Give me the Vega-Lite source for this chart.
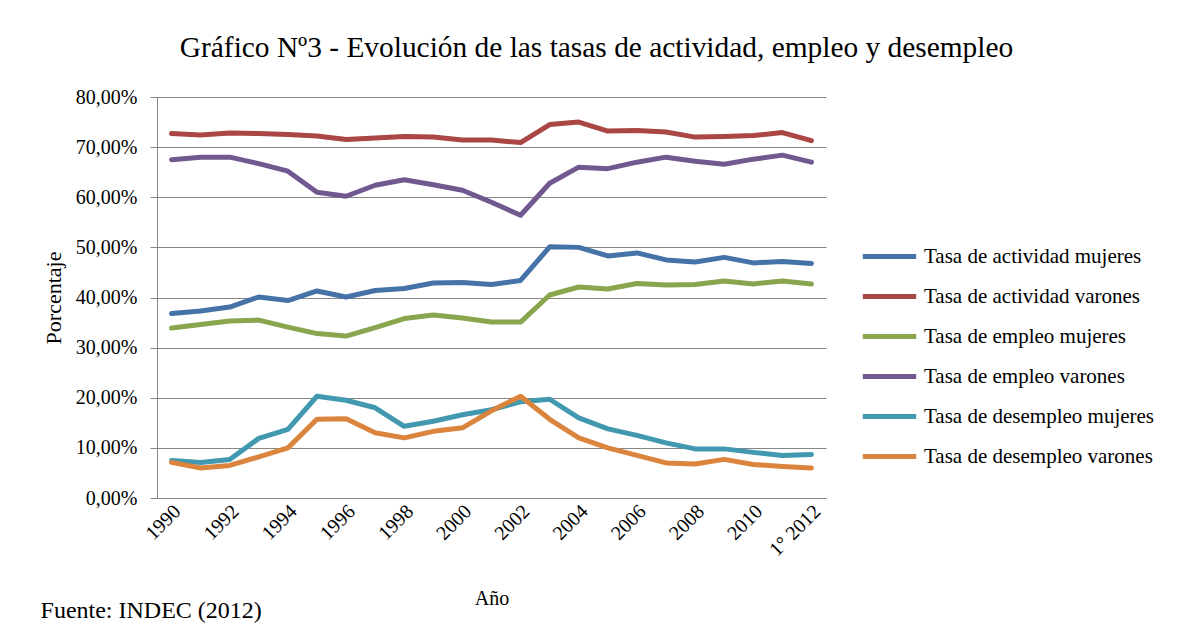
{
  "$schema": "https://vega.github.io/schema/vega-lite/v6.json",
  "autosize": {"type": "none"},
  "width": 669,
  "height": 401,
  "padding": {"left": 157, "top": 97, "right": 351, "bottom": 136},
  "background": "white",
  "title": {
    "text": "Gráfico Nº3 - Evolución de las tasas de actividad, empleo y desempleo",
    "font": "Liberation Serif",
    "fontSize": 29.4,
    "fontWeight": "normal",
    "color": "black",
    "anchor": "middle",
    "frame": "group",
    "dx": 105,
    "offset": 24
  },
  "config": {
    "view": {"stroke": null},
    "font": "Liberation Serif"
  },
  "data": {
    "values": [
      {"anio": "1990", "serie": "Tasa de actividad mujeres", "valor": 36.8},
      {"anio": "1991", "serie": "Tasa de actividad mujeres", "valor": 37.3},
      {"anio": "1992", "serie": "Tasa de actividad mujeres", "valor": 38.1},
      {"anio": "1993", "serie": "Tasa de actividad mujeres", "valor": 40.1},
      {"anio": "1994", "serie": "Tasa de actividad mujeres", "valor": 39.4},
      {"anio": "1995", "serie": "Tasa de actividad mujeres", "valor": 41.3},
      {"anio": "1996", "serie": "Tasa de actividad mujeres", "valor": 40.1},
      {"anio": "1997", "serie": "Tasa de actividad mujeres", "valor": 41.4},
      {"anio": "1998", "serie": "Tasa de actividad mujeres", "valor": 41.8},
      {"anio": "1999", "serie": "Tasa de actividad mujeres", "valor": 42.9},
      {"anio": "2000", "serie": "Tasa de actividad mujeres", "valor": 43.0},
      {"anio": "2001", "serie": "Tasa de actividad mujeres", "valor": 42.6},
      {"anio": "2002", "serie": "Tasa de actividad mujeres", "valor": 43.4},
      {"anio": "2003", "serie": "Tasa de actividad mujeres", "valor": 50.1},
      {"anio": "2004", "serie": "Tasa de actividad mujeres", "valor": 50.0},
      {"anio": "2005", "serie": "Tasa de actividad mujeres", "valor": 48.3},
      {"anio": "2006", "serie": "Tasa de actividad mujeres", "valor": 48.9},
      {"anio": "2007", "serie": "Tasa de actividad mujeres", "valor": 47.5},
      {"anio": "2008", "serie": "Tasa de actividad mujeres", "valor": 47.1},
      {"anio": "2009", "serie": "Tasa de actividad mujeres", "valor": 48.0},
      {"anio": "2010", "serie": "Tasa de actividad mujeres", "valor": 46.9},
      {"anio": "2011", "serie": "Tasa de actividad mujeres", "valor": 47.2},
      {"anio": "1° 2012", "serie": "Tasa de actividad mujeres", "valor": 46.8},
      {"anio": "1990", "serie": "Tasa de actividad varones", "valor": 72.7},
      {"anio": "1991", "serie": "Tasa de actividad varones", "valor": 72.4},
      {"anio": "1992", "serie": "Tasa de actividad varones", "valor": 72.8},
      {"anio": "1993", "serie": "Tasa de actividad varones", "valor": 72.7},
      {"anio": "1994", "serie": "Tasa de actividad varones", "valor": 72.5},
      {"anio": "1995", "serie": "Tasa de actividad varones", "valor": 72.2},
      {"anio": "1996", "serie": "Tasa de actividad varones", "valor": 71.5},
      {"anio": "1997", "serie": "Tasa de actividad varones", "valor": 71.8},
      {"anio": "1998", "serie": "Tasa de actividad varones", "valor": 72.1},
      {"anio": "1999", "serie": "Tasa de actividad varones", "valor": 72.0},
      {"anio": "2000", "serie": "Tasa de actividad varones", "valor": 71.4},
      {"anio": "2001", "serie": "Tasa de actividad varones", "valor": 71.4},
      {"anio": "2002", "serie": "Tasa de actividad varones", "valor": 70.9},
      {"anio": "2003", "serie": "Tasa de actividad varones", "valor": 74.5},
      {"anio": "2004", "serie": "Tasa de actividad varones", "valor": 75.0},
      {"anio": "2005", "serie": "Tasa de actividad varones", "valor": 73.2},
      {"anio": "2006", "serie": "Tasa de actividad varones", "valor": 73.3},
      {"anio": "2007", "serie": "Tasa de actividad varones", "valor": 73.0},
      {"anio": "2008", "serie": "Tasa de actividad varones", "valor": 72.0},
      {"anio": "2009", "serie": "Tasa de actividad varones", "valor": 72.1},
      {"anio": "2010", "serie": "Tasa de actividad varones", "valor": 72.3},
      {"anio": "2011", "serie": "Tasa de actividad varones", "valor": 72.9},
      {"anio": "1° 2012", "serie": "Tasa de actividad varones", "valor": 71.3},
      {"anio": "1990", "serie": "Tasa de empleo mujeres", "valor": 33.9},
      {"anio": "1991", "serie": "Tasa de empleo mujeres", "valor": 34.6},
      {"anio": "1992", "serie": "Tasa de empleo mujeres", "valor": 35.3},
      {"anio": "1993", "serie": "Tasa de empleo mujeres", "valor": 35.5},
      {"anio": "1994", "serie": "Tasa de empleo mujeres", "valor": 34.1},
      {"anio": "1995", "serie": "Tasa de empleo mujeres", "valor": 32.8},
      {"anio": "1996", "serie": "Tasa de empleo mujeres", "valor": 32.3},
      {"anio": "1997", "serie": "Tasa de empleo mujeres", "valor": 34.0},
      {"anio": "1998", "serie": "Tasa de empleo mujeres", "valor": 35.8},
      {"anio": "1999", "serie": "Tasa de empleo mujeres", "valor": 36.5},
      {"anio": "2000", "serie": "Tasa de empleo mujeres", "valor": 35.9},
      {"anio": "2001", "serie": "Tasa de empleo mujeres", "valor": 35.1},
      {"anio": "2002", "serie": "Tasa de empleo mujeres", "valor": 35.1},
      {"anio": "2003", "serie": "Tasa de empleo mujeres", "valor": 40.5},
      {"anio": "2004", "serie": "Tasa de empleo mujeres", "valor": 42.1},
      {"anio": "2005", "serie": "Tasa de empleo mujeres", "valor": 41.7},
      {"anio": "2006", "serie": "Tasa de empleo mujeres", "valor": 42.8},
      {"anio": "2007", "serie": "Tasa de empleo mujeres", "valor": 42.5},
      {"anio": "2008", "serie": "Tasa de empleo mujeres", "valor": 42.6},
      {"anio": "2009", "serie": "Tasa de empleo mujeres", "valor": 43.3},
      {"anio": "2010", "serie": "Tasa de empleo mujeres", "valor": 42.7},
      {"anio": "2011", "serie": "Tasa de empleo mujeres", "valor": 43.3},
      {"anio": "1° 2012", "serie": "Tasa de empleo mujeres", "valor": 42.7},
      {"anio": "1990", "serie": "Tasa de empleo varones", "valor": 67.5},
      {"anio": "1991", "serie": "Tasa de empleo varones", "valor": 68.0},
      {"anio": "1992", "serie": "Tasa de empleo varones", "valor": 68.0},
      {"anio": "1993", "serie": "Tasa de empleo varones", "valor": 66.7},
      {"anio": "1994", "serie": "Tasa de empleo varones", "valor": 65.2},
      {"anio": "1995", "serie": "Tasa de empleo varones", "valor": 61.0},
      {"anio": "1996", "serie": "Tasa de empleo varones", "valor": 60.2},
      {"anio": "1997", "serie": "Tasa de empleo varones", "valor": 62.4},
      {"anio": "1998", "serie": "Tasa de empleo varones", "valor": 63.5},
      {"anio": "1999", "serie": "Tasa de empleo varones", "valor": 62.5},
      {"anio": "2000", "serie": "Tasa de empleo varones", "valor": 61.4},
      {"anio": "2001", "serie": "Tasa de empleo varones", "valor": 59.0},
      {"anio": "2002", "serie": "Tasa de empleo varones", "valor": 56.4},
      {"anio": "2003", "serie": "Tasa de empleo varones", "valor": 62.8},
      {"anio": "2004", "serie": "Tasa de empleo varones", "valor": 66.0},
      {"anio": "2005", "serie": "Tasa de empleo varones", "valor": 65.7},
      {"anio": "2006", "serie": "Tasa de empleo varones", "valor": 67.0},
      {"anio": "2007", "serie": "Tasa de empleo varones", "valor": 68.0},
      {"anio": "2008", "serie": "Tasa de empleo varones", "valor": 67.2},
      {"anio": "2009", "serie": "Tasa de empleo varones", "valor": 66.6},
      {"anio": "2010", "serie": "Tasa de empleo varones", "valor": 67.6},
      {"anio": "2011", "serie": "Tasa de empleo varones", "valor": 68.4},
      {"anio": "1° 2012", "serie": "Tasa de empleo varones", "valor": 67.0},
      {"anio": "1990", "serie": "Tasa de desempleo mujeres", "valor": 7.5},
      {"anio": "1991", "serie": "Tasa de desempleo mujeres", "valor": 7.1},
      {"anio": "1992", "serie": "Tasa de desempleo mujeres", "valor": 7.7},
      {"anio": "1993", "serie": "Tasa de desempleo mujeres", "valor": 11.9},
      {"anio": "1994", "serie": "Tasa de desempleo mujeres", "valor": 13.7},
      {"anio": "1995", "serie": "Tasa de desempleo mujeres", "valor": 20.3},
      {"anio": "1996", "serie": "Tasa de desempleo mujeres", "valor": 19.5},
      {"anio": "1997", "serie": "Tasa de desempleo mujeres", "valor": 18.0},
      {"anio": "1998", "serie": "Tasa de desempleo mujeres", "valor": 14.3},
      {"anio": "1999", "serie": "Tasa de desempleo mujeres", "valor": 15.3},
      {"anio": "2000", "serie": "Tasa de desempleo mujeres", "valor": 16.6},
      {"anio": "2001", "serie": "Tasa de desempleo mujeres", "valor": 17.6},
      {"anio": "2002", "serie": "Tasa de desempleo mujeres", "valor": 19.2},
      {"anio": "2003", "serie": "Tasa de desempleo mujeres", "valor": 19.7},
      {"anio": "2004", "serie": "Tasa de desempleo mujeres", "valor": 16.0},
      {"anio": "2005", "serie": "Tasa de desempleo mujeres", "valor": 13.8},
      {"anio": "2006", "serie": "Tasa de desempleo mujeres", "valor": 12.5},
      {"anio": "2007", "serie": "Tasa de desempleo mujeres", "valor": 11.0},
      {"anio": "2008", "serie": "Tasa de desempleo mujeres", "valor": 9.8},
      {"anio": "2009", "serie": "Tasa de desempleo mujeres", "valor": 9.8},
      {"anio": "2010", "serie": "Tasa de desempleo mujeres", "valor": 9.1},
      {"anio": "2011", "serie": "Tasa de desempleo mujeres", "valor": 8.5},
      {"anio": "1° 2012", "serie": "Tasa de desempleo mujeres", "valor": 8.7},
      {"anio": "1990", "serie": "Tasa de desempleo varones", "valor": 7.1},
      {"anio": "1991", "serie": "Tasa de desempleo varones", "valor": 6.0},
      {"anio": "1992", "serie": "Tasa de desempleo varones", "valor": 6.5},
      {"anio": "1993", "serie": "Tasa de desempleo varones", "valor": 8.2},
      {"anio": "1994", "serie": "Tasa de desempleo varones", "valor": 10.0},
      {"anio": "1995", "serie": "Tasa de desempleo varones", "valor": 15.7},
      {"anio": "1996", "serie": "Tasa de desempleo varones", "valor": 15.8},
      {"anio": "1997", "serie": "Tasa de desempleo varones", "valor": 13.0},
      {"anio": "1998", "serie": "Tasa de desempleo varones", "valor": 12.0},
      {"anio": "1999", "serie": "Tasa de desempleo varones", "valor": 13.3},
      {"anio": "2000", "serie": "Tasa de desempleo varones", "valor": 14.0},
      {"anio": "2001", "serie": "Tasa de desempleo varones", "valor": 17.4},
      {"anio": "2002", "serie": "Tasa de desempleo varones", "valor": 20.3},
      {"anio": "2003", "serie": "Tasa de desempleo varones", "valor": 15.7},
      {"anio": "2004", "serie": "Tasa de desempleo varones", "valor": 12.0},
      {"anio": "2005", "serie": "Tasa de desempleo varones", "valor": 10.0},
      {"anio": "2006", "serie": "Tasa de desempleo varones", "valor": 8.5},
      {"anio": "2007", "serie": "Tasa de desempleo varones", "valor": 7.0},
      {"anio": "2008", "serie": "Tasa de desempleo varones", "valor": 6.8},
      {"anio": "2009", "serie": "Tasa de desempleo varones", "valor": 7.7},
      {"anio": "2010", "serie": "Tasa de desempleo varones", "valor": 6.7},
      {"anio": "2011", "serie": "Tasa de desempleo varones", "valor": 6.3},
      {"anio": "1° 2012", "serie": "Tasa de desempleo varones", "valor": 6.0}
    ]
  },
  "layer": [
    {
      "mark": {"type": "line", "strokeWidth": 5, "strokeCap": "round", "strokeJoin": "round"},
      "encoding": {
        "x": {
          "field": "anio",
          "type": "ordinal",
          "sort": null,
          "scale": {"type": "band", "paddingInner": 0, "paddingOuter": 0},
          "axis": {
            "title": "Año",
            "titleFont": "Liberation Serif",
            "titleFontSize": 20,
            "titleFontWeight": "normal",
            "titleColor": "black",
            "titlePadding": 29,
            "values": ["1990", "1992", "1994", "1996", "1998", "2000", "2002", "2004", "2006", "2008", "2010", "1° 2012"],
            "labelAngle": -45,
            "labelAlign": "right",
            "labelBaseline": "middle",
            "labelFont": "Liberation Serif",
            "labelFontSize": 20,
            "labelColor": "black",
            "labelPadding": 10,
            "labelOffset": 6,
            "ticks": false,
            "domainColor": "#868686",
            "domainWidth": 1,
            "grid": false
          }
        },
        "y": {
          "field": "valor",
          "type": "quantitative",
          "scale": {"domain": [0, 80], "nice": false, "zero": true},
          "axis": {
            "title": "Porcentaje",
            "titleFont": "Liberation Serif",
            "titleFontSize": 22,
            "titleFontWeight": "normal",
            "titleColor": "black",
            "titlePadding": 10,
            "values": [0, 10, 20, 30, 40, 50, 60, 70, 80],
            "labelExpr": "replace(format(datum.value, '.2f'), '.', ',') + '%'",
            "labelFont": "Liberation Serif",
            "labelFontSize": 20,
            "labelColor": "black",
            "labelPadding": 13,
            "tickSize": 7,
            "tickColor": "#868686",
            "domainColor": "#868686",
            "gridColor": "#868686",
            "gridWidth": 1
          }
        },
        "color": {
          "field": "serie",
          "type": "nominal",
          "scale": {
            "domain": ["Tasa de actividad mujeres", "Tasa de actividad varones", "Tasa de empleo mujeres", "Tasa de empleo varones", "Tasa de desempleo mujeres", "Tasa de desempleo varones"],
            "range": ["#4572A7", "#AA4643", "#89A54E", "#71588F", "#4198AF", "#DB843D"]
          },
          "legend": {
            "title": null,
            "orient": "none",
            "legendX": 703,
            "legendY": 130,
            "symbolType": "stroke",
            "symbolSize": 2850,
            "symbolStrokeWidth": 5,
            "labelFont": "Liberation Serif",
            "labelFontSize": 21,
            "labelColor": "black",
            "labelOffset": 5,
            "labelLimit": 400,
            "rowPadding": 0
          }
        }
      }
    },
    {
      "data": {"values": [{"nota": "Fuente: INDEC (2012)"}]},
      "mark": {"type": "text", "align": "left", "baseline": "alphabetic", "dx": -131, "font": "Liberation Serif", "fontSize": 24, "color": "black"},
      "encoding": {
        "text": {"field": "nota"},
        "x": {"datum": "1990"},
        "y": {"datum": -24}
      }
    }
  ]
}
